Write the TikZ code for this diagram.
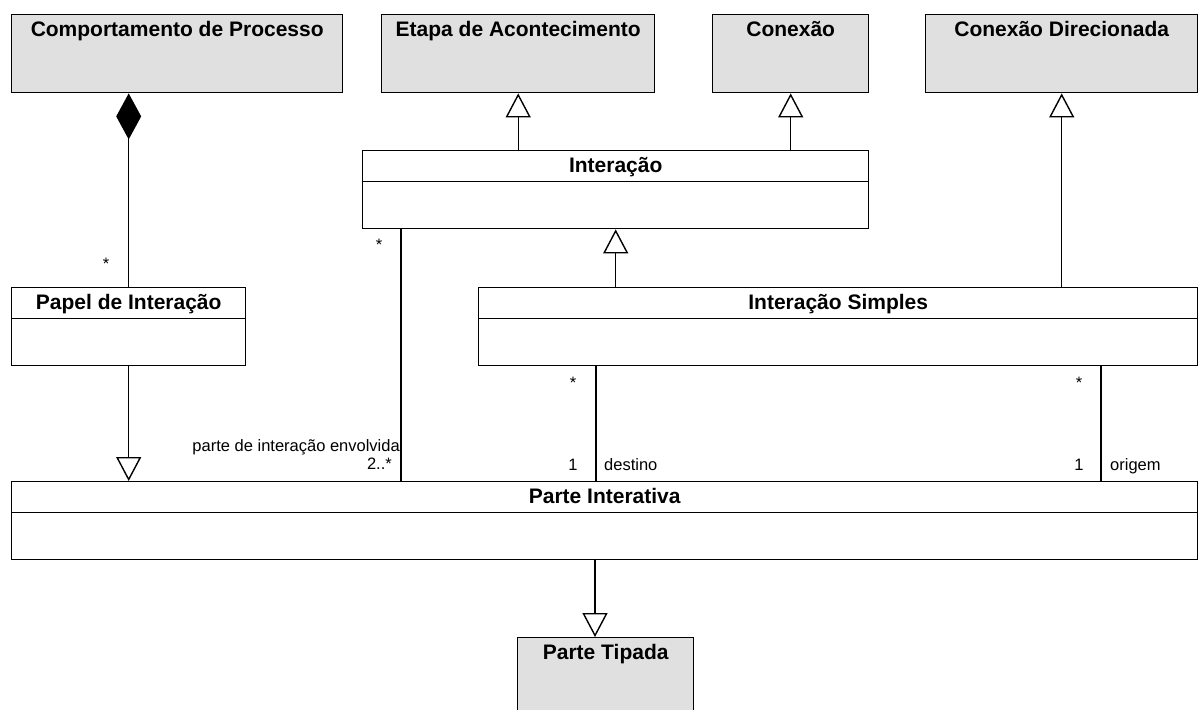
\documentclass[tikz,border=0pt]{standalone}
\usepackage{fontspec}
\setmainfont{Liberation Sans}
\usetikzlibrary{arrows.meta}
\definecolor{cinzaclasse}{RGB}{224,224,224}

\tikzset{
  classe/.style={draw, line width=1.4pt, anchor=north west, inner sep=0pt,
    minimum height=78pt, fill=white,
    path picture={\draw[line width=1.4pt]
      ([yshift=-31pt]path picture bounding box.north west) --
      ([yshift=-31pt]path picture bounding box.north east);}},
  externa/.style={draw, line width=1.4pt, anchor=north west, inner sep=0pt,
    minimum height=78pt, fill=cinzaclasse},
  titulo/.style={font=\fontsize{21}{24}\selectfont\bfseries, anchor=north,
    inner sep=7pt, text height=15.5pt, text depth=4pt},
  rotulo/.style={font=\fontsize{16.5}{19}\selectfont, inner sep=0pt},
  heranca/.style={line width=1.4pt, -{Triangle[open, fill=white, length=24pt, width=25pt]}},
  composicao/.style={line width=1.4pt, {Diamond[length=46pt, width=25pt]}-},
  assoc/.style={line width=1.4pt},
}

\begin{document}
\begin{tikzpicture}[x=1pt,y=-1pt]
  \useasboundingbox (0,0) rectangle (1198,709);
  % Upper row of classes
  \node[externa, minimum width=331pt, label={[titulo]north:Comportamento de Processo}] (comport)     at (11,14)  {};
  \node[externa, minimum width=273pt, label={[titulo]north:Etapa de Acontecimento}]    (etapa)       at (381,14) {};
  \node[externa, minimum width=156pt, label={[titulo]north:Conexão}]                   (conexao)     at (712,14) {};
  \node[externa, minimum width=272pt, label={[titulo]north:Conexão Direcionada}]       (direcionada) at (925,14) {};
  % Middle classes
  \node[classe, minimum width=506pt, label={[titulo]north:Interação}]         (interacao) at (362,150) {};
  \node[classe, minimum width=234pt, label={[titulo]north:Papel de Interação}] (papel)     at (11,287)  {};
  \node[classe, minimum width=719pt, label={[titulo]north:Interação Simples}] (simples)   at (478,287) {};
  % Lower classes
  \node[classe, minimum width=1186pt, label={[titulo]north:Parte Interativa}] (parte)  at (11,481)  {};
  \node[externa, minimum width=176pt, label={[titulo]north:Parte Tipada}]     (tipada) at (517,637) {};

  \coordinate (xenv)  at (401,0);
  \coordinate (xdest) at (596,0);
  \coordinate (xorig) at (1101,0);
  \coordinate (xtip)  at (595,0);

  % Generalizations
  \draw[heranca] (interacao.north -| etapa.south) -- (etapa.south);
  \draw[heranca] (interacao.north -| conexao.south) -- (conexao.south);
  \draw[heranca] (simples.north -| direcionada.south) -- (direcionada.south);
  \draw[heranca] (simples.north -| interacao.south) -- (interacao.south);
  \draw[heranca] (papel.south) -- (parte.north -| papel.south);
  \draw[heranca] (parte.south -| xtip) -- (tipada.north -| xtip);
  % Composition and associations
  \draw[composicao] (comport.south -| papel.north) -- (papel.north);
  \draw[assoc] (interacao.south -| xenv) -- (parte.north -| xenv);
  \draw[assoc] (simples.south -| xdest) -- (parte.north -| xdest);
  \draw[assoc] (simples.south -| xorig) -- (parte.north -| xorig);

  % Multiplicities and roles
  \node[rotulo] (mpapel)  at (106,264) {*};
  \node[rotulo] (menv)    at (379,245) {*};
  \node[rotulo, anchor=base east] (renv) at (400,451) {parte de interação envolvida};
  \node[rotulo, anchor=base east] (nenv) at (392,469) {2..*};
  \node[rotulo] (mdest)   at (573,383) {*};
  \node[rotulo, anchor=base] (ndest) at (573,470) {1};
  \node[rotulo, anchor=base west] (rdest) at (604,470) {destino};
  \node[rotulo] (morig)   at (1079,383) {*};
  \node[rotulo, anchor=base] (norig) at (1079,470) {1};
  \node[rotulo, anchor=base west] (rorig) at (1110,470) {origem};
\end{tikzpicture}
\end{document}
